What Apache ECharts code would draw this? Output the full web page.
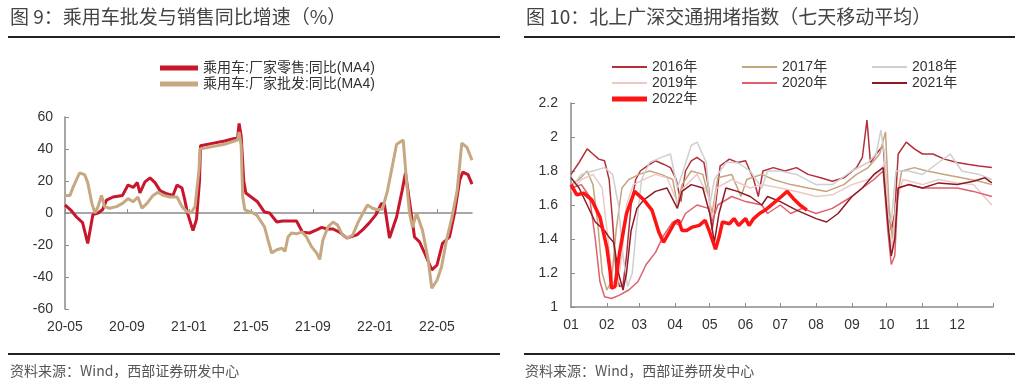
<!DOCTYPE html>
<html><head><meta charset="utf-8">
<script src="https://cdn.jsdelivr.net/npm/echarts@6/dist/echarts.min.js"></script>
<style>html,body{margin:0;padding:0;background:#fff}#c{width:1024px;height:389px}</style>
</head><body><div id="c"></div>
<script>
// ---------- Left chart data: 乘用车批发与销售同比增速 (%) ----------
const leftTickLabels = ['20-05','20-09','21-01','21-05','21-09','22-01','22-05'];
const retail = [
['2020-05-01',5],['2020-05-12',2],['2020-05-24',-2.5],['2020-06-05',-6],['2020-06-15',-19],['2020-06-25',-1],
['2020-07-05',0],['2020-07-14',2],['2020-07-22',8],['2020-08-04',10],['2020-08-23',11],['2020-09-03',17.5],
['2020-09-13',16],['2020-09-21',19],['2020-09-26',12.5],['2020-10-06',19.5],['2020-10-16',22],['2020-10-26',19],
['2020-11-05',14],['2020-11-18',12],['2020-11-30',11],['2020-12-08',17.5],['2020-12-18',15.6],['2020-12-23',9],
['2020-12-29',0],['2021-01-09',-11],['2021-01-16',-4],['2021-01-22',20],['2021-01-24',42],['2021-02-15',43.5],
['2021-03-10',45],['2021-04-05',47],['2021-04-08',56],['2021-04-12',48],['2021-04-17',20],['2021-04-21',12.5],
['2021-05-14',7],['2021-05-28',0.6],['2021-06-07',0],['2021-06-21',-5.6],['2021-07-02',-5],['2021-07-30',-5],
['2021-08-11',-12],['2021-08-25',-12.5],['2021-09-08',-10.6],['2021-09-18',-9],['2021-09-28',-10],['2021-10-10',-10],
['2021-10-23',-12],['2021-11-06',-15.6],['2021-11-26',-13.7],['2021-12-07',-10.6],['2021-12-21',-6],['2022-01-03',-1],
['2022-01-14',6],['2022-01-20',5],['2022-01-30',-15.6],['2022-02-12',-2.5],['2022-02-22',14],['2022-02-28',25],
['2022-03-05',14],['2022-03-18',-15],['2022-03-28',-18],['2022-04-07',-25],['2022-04-21',-35.6],['2022-05-01',-32.5],
['2022-05-12',-19],['2022-05-26',-15],['2022-06-05',0],['2022-06-15',20.6],['2022-06-21',25.6],['2022-07-01',24],
['2022-07-09',18]
];
const wholesale = [
['2020-05-01',11],['2020-05-11',11],['2020-05-17',16],['2020-05-30',25],['2020-06-09',24],['2020-06-15',19],
['2020-06-23',6],['2020-06-29',0],['2020-07-05',4],['2020-07-12',11],['2020-07-18',4],['2020-07-28',3],
['2020-08-11',4],['2020-08-23',6],['2020-09-03',9],['2020-09-13',7],['2020-09-22',10],['2020-09-30',3],
['2020-10-10',6],['2020-10-22',11],['2020-11-01',13],['2020-11-11',11],['2020-11-24',10],['2020-12-08',10],
['2020-12-18',4],['2020-12-27',1],['2021-01-05',0],['2021-01-13',4],['2021-01-21',27],['2021-01-23',40],
['2021-02-15',41.5],['2021-03-10',43],['2021-04-05',45.6],['2021-04-08',50.6],['2021-04-12',42],['2021-04-15',10],
['2021-04-19',2],['2021-05-05',0],['2021-05-13',-1.5],['2021-05-28',-8.7],['2021-06-04',-17],['2021-06-11',-25],
['2021-06-21',-23],['2021-07-01',-22],['2021-07-07',-24],['2021-07-13',-15],['2021-07-20',-12.5],['2021-07-30',-13],
['2021-08-10',-11.8],['2021-08-19',-15],['2021-08-29',-21],['2021-09-08',-25],['2021-09-14',-29],['2021-09-20',-17],
['2021-09-30',-8.7],['2021-10-10',-5.6],['2021-10-19',-7.5],['2021-10-29',-13.7],['2021-11-08',-15.6],['2021-11-18',-13.7],
['2021-11-28',-6],['2021-12-08',0],['2021-12-17',5],['2021-12-27',3],['2022-01-06',2],['2022-01-16',2.5],
['2022-01-26',14],['2022-02-03',27],['2022-02-12',43],['2022-02-24',45.6],['2022-03-02',20],['2022-03-08',0],
['2022-03-14',-9],['2022-03-22',0],['2022-04-03',-11],['2022-04-13',-27.5],['2022-04-21',-47],['2022-05-01',-42],
['2022-05-10',-33.7],['2022-05-20',-17],['2022-05-30',-4],['2022-06-10',14],['2022-06-19',43.7],['2022-06-29',41],
['2022-07-09',33]
];

// ---------- Right chart data: 北上广深交通拥堵指数 (七天移动平均) ----------
const monthLabels = ['01','02','03','04','05','06','07','08','09','10','11','12'];
const y2016 = [['01-01',1.78],['01-08',1.85],['01-15',1.93],['01-20',1.9],['01-25',1.87],['01-30',1.86],['02-03',1.75],['02-06',1.5],['02-09',1.2],['02-12',1.12],['02-15',1.13],['02-18',1.3],['02-22',1.6],['02-26',1.75],['03-02',1.8],['03-08',1.83],['03-15',1.86],['03-22',1.84],['03-28',1.82],['04-02',1.75],['04-06',1.62],['04-10',1.8],['04-15',1.86],['04-20',1.88],['04-26',1.85],['04-30',1.7],['05-03',1.45],['05-06',1.6],['05-10',1.83],['05-18',1.87],['05-25',1.85],['06-01',1.86],['06-08',1.75],['06-12',1.65],['06-16',1.8],['06-25',1.82],['07-05',1.8],['07-15',1.82],['07-25',1.78],['08-05',1.76],['08-15',1.74],['08-25',1.76],['09-05',1.82],['09-10',1.88],['09-14',2.1],['09-17',1.85],['09-22',1.9],['09-28',1.95],['10-02',1.6],['10-05',1.45],['10-08',1.55],['10-11',1.9],['10-18',1.97],['10-25',1.93],['11-01',1.9],['11-10',1.9],['11-20',1.87],['12-01',1.85],['12-10',1.84],['12-20',1.83],['12-31',1.82]];
const y2017 = [['01-01',1.72],['01-08',1.75],['01-15',1.8],['01-20',1.72],['01-24',1.5],['01-28',1.2],['02-01',1.1],['02-05',1.15],['02-09',1.45],['02-14',1.7],['02-20',1.75],['03-01',1.78],['03-10',1.8],['03-20',1.78],['03-30',1.75],['04-03',1.6],['04-07',1.72],['04-15',1.8],['04-25',1.78],['04-30',1.65],['05-03',1.55],['05-08',1.76],['05-20',1.78],['05-28',1.65],['06-02',1.75],['06-15',1.78],['06-25',1.75],['07-10',1.72],['07-25',1.7],['08-10',1.68],['08-25',1.72],['09-05',1.78],['09-15',1.82],['09-25',1.9],['09-30',2.03],['10-03',1.6],['10-06',1.4],['10-09',1.6],['10-14',1.8],['10-25',1.82],['11-05',1.8],['11-20',1.78],['12-05',1.76],['12-20',1.74],['12-31',1.72]];
const y2018 = [['01-01',1.7],['01-10',1.78],['01-20',1.8],['01-30',1.82],['02-06',1.78],['02-11',1.6],['02-15',1.3],['02-19',1.12],['02-23',1.2],['02-27',1.5],['03-03',1.75],['03-10',1.85],['03-20',1.88],['03-28',1.9],['04-03',1.7],['04-08',1.8],['04-15',1.95],['04-20',1.97],['04-28',1.85],['05-01',1.6],['05-05',1.75],['05-15',1.85],['05-25',1.85],['06-05',1.8],['06-15',1.7],['06-20',1.8],['07-01',1.8],['07-15',1.78],['08-01',1.72],['08-15',1.72],['09-01',1.8],['09-15',1.85],['09-22',1.9],['09-26',2.04],['09-29',1.9],['10-02',1.55],['10-05',1.5],['10-09',1.8],['10-20',1.8],['11-01',1.78],['11-15',1.85],['11-25',1.9],['12-05',1.8],['12-20',1.78],['12-31',1.75]];
const y2019 = [['01-01',1.68],['01-10',1.75],['01-20',1.78],['01-28',1.7],['02-02',1.4],['02-06',1.15],['02-10',1.12],['02-14',1.3],['02-18',1.6],['02-24',1.72],['03-05',1.75],['03-15',1.78],['03-25',1.76],['04-04',1.6],['04-08',1.7],['04-20',1.78],['04-30',1.65],['05-03',1.5],['05-07',1.7],['05-20',1.75],['06-05',1.7],['06-15',1.72],['07-01',1.7],['07-15',1.68],['08-01',1.65],['08-15',1.66],['09-01',1.72],['09-15',1.75],['09-25',1.8],['09-30',1.85],['10-03',1.45],['10-06',1.35],['10-09',1.6],['10-15',1.75],['11-01',1.72],['11-15',1.75],['12-01',1.73],['12-15',1.72],['12-31',1.6]];
const y2020 = [['01-01',1.7],['01-10',1.72],['01-17',1.65],['01-22',1.4],['01-26',1.15],['01-30',1.06],['02-05',1.05],['02-12',1.07],['02-20',1.1],['02-28',1.15],['03-07',1.25],['03-15',1.32],['03-22',1.42],['03-30',1.5],['04-05',1.48],['04-10',1.55],['04-20',1.6],['04-30',1.58],['05-03',1.5],['05-08',1.6],['05-20',1.65],['06-01',1.62],['06-15',1.6],['06-20',1.55],['07-01',1.6],['07-10',1.55],['07-20',1.58],['08-01',1.55],['08-15',1.58],['09-01',1.65],['09-10',1.7],['09-20',1.75],['09-28',1.8],['10-02',1.45],['10-05',1.25],['10-08',1.3],['10-11',1.7],['10-20',1.72],['11-01',1.7],['11-15',1.7],['12-01',1.7],['12-15',1.68],['12-31',1.65]];
const y2021 = [['01-01',1.76],['01-08',1.7],['01-15',1.6],['01-22',1.5],['01-30',1.45],['02-03',1.41],['02-07',1.38],['02-11',1.2],['02-15',1.1],['02-18',1.2],['02-22',1.45],['02-27',1.58],['03-05',1.63],['03-15',1.68],['03-25',1.7],['04-03',1.58],['04-07',1.68],['04-15',1.72],['04-25',1.7],['05-01',1.55],['05-05',1.38],['05-09',1.55],['05-15',1.7],['05-25',1.68],['06-05',1.65],['06-15',1.6],['06-20',1.65],['07-01',1.62],['07-15',1.57],['08-01',1.52],['08-10',1.5],['08-20',1.55],['09-01',1.65],['09-10',1.7],['09-20',1.78],['09-28',1.82],['10-02',1.5],['10-05',1.3],['10-08',1.4],['10-11',1.7],['10-20',1.72],['11-01',1.7],['11-15',1.73],['12-01',1.72],['12-15',1.74],['12-25',1.76],['12-31',1.73]];
const y2022 = [['01-01',1.72],['01-06',1.66],['01-12',1.67],['01-19',1.63],['01-26',1.53],['02-01',1.35],['02-04',1.2],['02-05',1.11],['02-08',1.12],['02-12',1.32],['02-18',1.55],['02-25',1.68],['03-05',1.63],['03-12',1.57],['03-18',1.44],['03-22',1.38],['03-27',1.44],['04-01',1.5],['04-04',1.51],['04-07',1.45],['04-11',1.45],['04-16',1.47],['04-22',1.48],['04-27',1.51],['05-01',1.44],['05-06',1.34],['05-09',1.41],['05-12',1.5],['05-18',1.49],['05-22',1.52],['05-26',1.48],['06-01',1.52],['06-04',1.48],['06-08',1.52],['06-13',1.55],['06-18',1.57],['06-25',1.61],['07-02',1.65],['07-07',1.68],['07-12',1.64],['07-18',1.6],['07-24',1.57]];

// ---------- helpers ----------
function monthIdx(s){const p=s.split('-').map(Number);const dim=new Date(p[0],p[1],0).getDate();return (p[0]-2020)*12+(p[1]-5)+(p[2]-1)/dim;}
const CUM=[0,31,59,90,120,151,181,212,243,273,304,334];
function dayIdx(s){const p=s.split('-').map(Number);return CUM[p[0]-1]+p[1]-1;}
const toLeft = arr => arr.map(d=>[monthIdx(d[0]),d[1]]);
const toRight = arr => arr.map(d=>[dayIdx(d[0]),d[1]]);

const FONT = '"Liberation Sans", Arial, "Noto Sans CJK SC", sans-serif';
const CJK = '"Noto Sans CJK SC", sans-serif';
const axisGray = '#8a8a8a';
const txt = '#333';
const leftTicks = leftTickLabels.map((_,i)=>i*4);
const leftMax = monthIdx('2022-07-09');

const chart = echarts.init(document.getElementById('c'), null, {renderer:'canvas'});
const rightSeries = [
  ['2016年', y2016, '#B3303B', 1.5],
  ['2017年', y2017, '#C5A47E', 1.5],
  ['2018年', y2018, '#CFCFCF', 1.5],
  ['2019年', y2019, '#EBCAC6', 1.5],
  ['2020年', y2020, '#DE5F6E', 1.5],
  ['2021年', y2021, '#8C1A24', 1.5],
  ['2022年', y2022, '#FF1414', 3.5]
];
const legendText = {fontSize:14, color:txt, fontFamily:FONT, lineHeight:16};
const lg = (left, top, h, names, w) => ({orient:'vertical', left, top, itemWidth:w||35, itemHeight:h, itemGap:0,
  textStyle:legendText, icon:'rect', data:names});

chart.setOption({
  animation:false,
  backgroundColor:'#fff',
  textStyle:{fontFamily:FONT},
  grid:[
    {left:65, top:117, width:407, height:192},
    {left:571, top:103, width:422, height:204}
  ],
  xAxis:[
    {gridIndex:0, type:'value', min:0, max:leftMax,
     axisLine:{onZero:true, lineStyle:{color:axisGray, width:1.5}},
     axisTick:{inside:true, length:4, customValues:leftTicks, lineStyle:{color:axisGray}},
     axisLabel:{show:false}, splitLine:{show:false}},
    {gridIndex:0, type:'value', min:0, max:leftMax, position:'bottom',
     axisLine:{show:false, onZero:false}, axisTick:{show:false}, splitLine:{show:false},
     axisLabel:{customValues:leftTicks, formatter:v=>leftTickLabels[Math.round(v/4)], fontSize:14, color:txt, margin:11}},
    {gridIndex:1, type:'value', min:0, max:365,
     axisLine:{onZero:false, lineStyle:{color:axisGray, width:1.5}},
     axisTick:{inside:true, length:4, customValues:CUM.slice(1).concat([365]), lineStyle:{color:axisGray}},
     axisLabel:{customValues:CUM, formatter:v=>monthLabels[CUM.indexOf(v)], fontSize:14, color:txt, margin:11},
     splitLine:{show:false}}
  ],
  yAxis:[
    {gridIndex:0, type:'value', min:-60, max:60, interval:20,
     axisLine:{show:true, onZero:false, lineStyle:{color:axisGray, width:1.5}},
     axisTick:{show:true, inside:true, length:4, lineStyle:{color:axisGray}},
     axisLabel:{fontSize:14, color:txt, margin:12}, splitLine:{show:false}},
    {gridIndex:1, type:'value', min:1, max:2.2, interval:0.2,
     axisLine:{show:true, onZero:false, lineStyle:{color:axisGray, width:1.5}},
     axisTick:{show:true, inside:true, length:4, lineStyle:{color:axisGray}},
     axisLabel:{fontSize:14, color:txt, margin:13, formatter:v=>String(+v.toFixed(1))}, splitLine:{show:false}}
  ],
  legend:[
    lg(155, 55, 5, ['乘用车:厂家零售:同比(MA4)','乘用车:厂家批发:同比(MA4)'], 38),
    lg(607, 54, 2, ['2016年','2019年']),
    lg(607, 86, 5, ['2022年']),
    lg(737, 54, 2, ['2017年','2020年']),
    lg(867, 54, 2, ['2018年','2021年'])
  ],
  series:[
    {name:'乘用车:厂家零售:同比(MA4)', type:'line', xAxisIndex:0, yAxisIndex:0, data:toLeft(retail),
     symbol:'none', color:'#C8162C', lineStyle:{width:3, color:'#C8162C'}},
    {name:'乘用车:厂家批发:同比(MA4)', type:'line', xAxisIndex:0, yAxisIndex:0, data:toLeft(wholesale),
     symbol:'none', color:'#C6A882', lineStyle:{width:3, color:'#C6A882'}}
  ].concat(rightSeries.map((s,i)=>({
     name:s[0], type:'line', xAxisIndex:2, yAxisIndex:1, data:toRight(s[1]), symbol:'none', z:2+i,
     color:s[2], lineStyle:{width:s[3], color:s[2]}}))),
  graphic:[
    {type:'text', left:10, top:7, style:{text:'图 9：乘用车批发与销售同比增速（%）', font:'19px '+CJK, fill:'#444'}},
    {type:'text', left:526, top:7, style:{text:'图 10：北上广深交通拥堵指数（七天移动平均）', font:'19px '+CJK, fill:'#444'}},
    {type:'line', shape:{x1:8, y1:37, x2:500, y2:37}, style:{stroke:'#222', lineWidth:2}},
    {type:'line', shape:{x1:524, y1:37, x2:1015, y2:37}, style:{stroke:'#222', lineWidth:2}},
    {type:'line', shape:{x1:8, y1:354, x2:500, y2:354}, style:{stroke:'#222', lineWidth:2}},
    {type:'line', shape:{x1:524, y1:354, x2:1015, y2:354}, style:{stroke:'#222', lineWidth:2}},
    {type:'text', left:10, top:364, style:{text:'资料来源：Wind，西部证券研发中心', font:'14px '+CJK, fill:'#555'}},
    {type:'text', left:525, top:364, style:{text:'资料来源：Wind，西部证券研发中心', font:'14px '+CJK, fill:'#555'}}
  ]
});
</script></body></html>
